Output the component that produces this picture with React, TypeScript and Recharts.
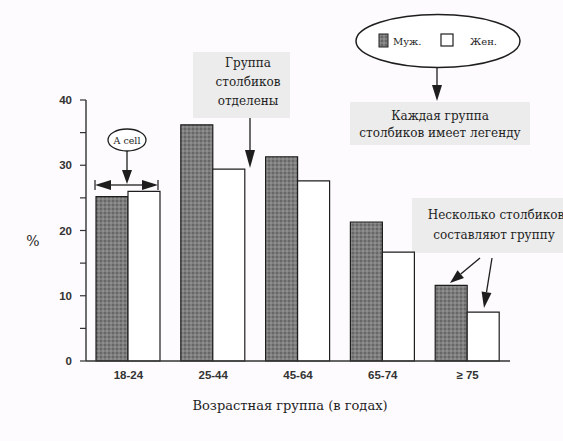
import React from 'react';
import { BarChart, Bar, XAxis, YAxis, Legend, Customized } from 'recharts';

const categories = ['18-24', '25-44', '45-64', '65-74', '≥ 75'];
const maleValues = [25.2, 36.2, 31.3, 21.3, 11.6];
const femaleValues = [26.0, 29.4, 27.6, 16.7, 7.5];
const yTicks = [0, 5, 10, 15, 20, 25, 30, 35, 40];
const seriesNames = ['Муж.', 'Жен.'];

const data = categories.map((c, i) => ({ group: c, male: maleValues[i], female: femaleValues[i] }));

const SERIF = "'DejaVu Serif', 'Liberation Serif', serif";
const SANS = 'Liberation Sans, Arial, sans-serif';
const BOX = '#ececec';
const INK = '#1e1e1e';

const serifStyle = (size: number): React.CSSProperties => ({ fontFamily: SERIF, fontSize: size });

const Arrow = ({ x1, y1, x2, y2, head = 10, w = 5 }: any) => {
  const dx = x2 - x1, dy = y2 - y1;
  const len = Math.sqrt(dx * dx + dy * dy);
  const ux = dx / len, uy = dy / len;
  const bx = x2 - ux * head, by = y2 - uy * head;
  const px = -uy * w, py = ux * w;
  return (
    <g>
      <line x1={x1} y1={y1} x2={bx} y2={by} stroke={INK} strokeWidth={1.3} />
      <polygon points={`${x2},${y2} ${bx + px},${by + py} ${bx - px},${by - py}`} fill={INK} />
    </g>
  );
};

const Annotations = () => (
  <g>
    <defs>
      <pattern id="stip" width="4" height="4" patternUnits="userSpaceOnUse">
        <rect width="4" height="4" fill="#7e7e7e" />
        <circle cx="1" cy="1" r="0.8" fill="#4a4a4a" />
        <circle cx="3" cy="3" r="0.7" fill="#a8a8a8" />
      </pattern>
    </defs>
    <text x={33} y={246} style={serifStyle(14)} fill={INK} textAnchor="middle">%</text>
    <text x={290} y={410} style={serifStyle(13)} fill={INK} textAnchor="middle">Возрастная группа (в годах)</text>

    <rect x={193} y={52} width={97} height={66} fill={BOX} />
    <text style={serifStyle(12)} fill={INK} textAnchor="middle">
      <tspan x={248} y={67}>Группа</tspan>
      <tspan x={248} y={86}>столбиков</tspan>
      <tspan x={248} y={105}>отделены</tspan>
    </text>
    <Arrow x1={250} y1={118} x2={250} y2={168} head={18} w={5} />

    <rect x={350} y={102} width={180} height={43} fill={BOX} />
    <text style={serifStyle(12)} fill={INK} textAnchor="middle">
      <tspan x={440} y={120}>Каждая группа</tspan>
      <tspan x={440} y={137}>столбиков имеет легенду</tspan>
    </text>
    <Arrow x1={437} y1={67} x2={437} y2={101} head={16} w={5} />

    <rect x={412} y={198} width={160} height={55} fill={BOX} />
    <text style={serifStyle(12)} fill={INK} textAnchor="middle">
      <tspan x={496} y={219}>Несколько столбиков</tspan>
      <tspan x={494} y={239}>составляют группу</tspan>
    </text>
    <Arrow x1={480} y1={258} x2={450} y2={283} head={14} w={5} />
    <Arrow x1={492} y1={258} x2={484} y2={308} head={16} w={5} />

    <ellipse cx={127} cy={140} rx={19} ry={11} fill="#fff" stroke={INK} strokeWidth={1.3} />
    <text x={127} y={144} style={serifStyle(9.5)} fill={INK} textAnchor="middle">A cell</text>
    <Arrow x1={127} y1={151} x2={127} y2={184} head={14} w={5} />
    <Arrow x1={127} y1={185} x2={95} y2={185} head={16} w={5} />
    <Arrow x1={127} y1={185} x2={158} y2={185} head={16} w={5} />
    <line x1={95} y1={180} x2={95} y2={190} stroke={INK} strokeWidth={1.2} />
    <line x1={158} y1={180} x2={158} y2={190} stroke={INK} strokeWidth={1.2} />
  </g>
);

const LegendContent = () => (
  <svg width={170} height={58} style={{ display: 'block' }}>
    <ellipse cx={85} cy={29} rx={82} ry={26.5} fill="#fff" stroke={INK} strokeWidth={1.5} />
    <rect x={26} y={22} width={9} height={13} fill="url(#stip)" stroke={INK} strokeWidth={1} />
    <text x={40} y={33} style={serifStyle(10)} fill={INK}>{seriesNames[0]}</text>
    <rect x={88} y={22} width={12} height={12} fill="#fff" stroke={INK} strokeWidth={1.2} />
    <text x={117} y={33} style={serifStyle(10)} fill={INK}>{seriesNames[1]}</text>
  </svg>
);

const YTick = (props: any) => {
  const { x, y, payload } = props;
  if (payload.value % 10 !== 0) return null;
  return (
    <text x={x} y={y} dy={4} textAnchor="end" style={{ fontFamily: SANS, fontSize: 11.5, fontWeight: 'bold' }} fill="#333">
      {payload.value}
    </text>
  );
};

export default function App() {
  return (
    <div style={{ position: 'absolute', left: 0, top: 0, width: 563, height: 441, background: '#fdfbfd' }}>
      <BarChart
        width={563}
        height={441}
        data={data}
        margin={{ top: 100, right: 53, bottom: 50, left: 46 }}
        barGap={0}
        barSize={32}
      >
        <XAxis
          dataKey="group"
          height={30}
          tickLine={false}
          tickMargin={4}
          axisLine={{ stroke: '#333', strokeWidth: 1.6 }}
          tick={{ fontFamily: SANS, fontSize: 11.5, fontWeight: 'bold', fill: '#333' }}
        />
        <YAxis
          width={40}
          domain={[0, 40]}
          ticks={yTicks}
          interval={0}
          tickSize={6}
          tickMargin={8}
          axisLine={{ stroke: '#333', strokeWidth: 1.4 }}
          tickLine={{ stroke: '#333', strokeWidth: 1.2 }}
          tick={<YTick />}
        />
        <Legend
          layout="horizontal"
          verticalAlign="middle"
          align="center"
          wrapperStyle={{ top: 12, left: 353, width: 170, height: 58 }}
          content={<LegendContent />}
        />
        <Bar dataKey="male" name={seriesNames[0]} fill="url(#stip)" stroke={INK} strokeWidth={1.2} isAnimationActive={false} />
        <Bar dataKey="female" name={seriesNames[1]} fill="#ffffff" stroke={INK} strokeWidth={1.2} isAnimationActive={false} />
        <Customized component={Annotations} />
      </BarChart>
    </div>
  );
}
